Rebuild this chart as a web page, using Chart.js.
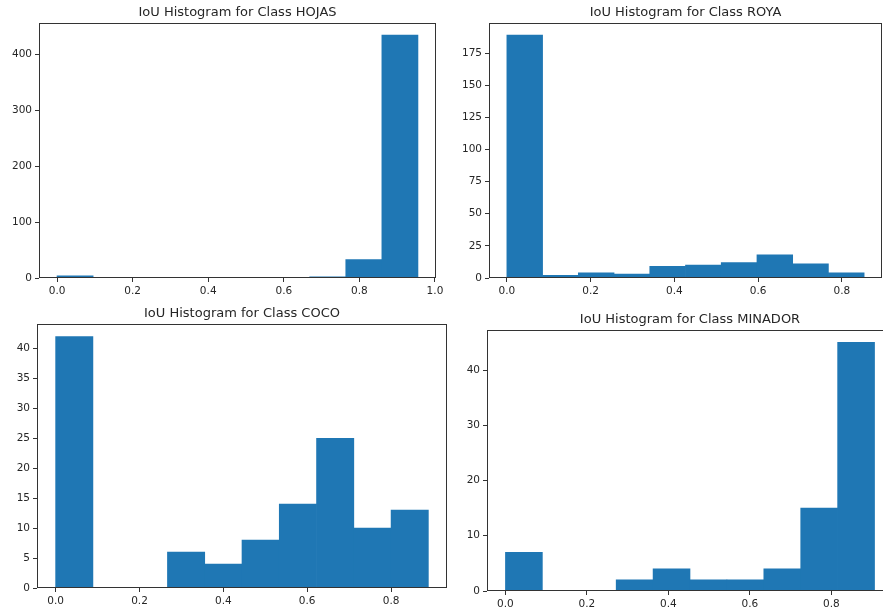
<!DOCTYPE html>
<html lang="en">
<head>
<meta charset="UTF-8">
<title>IoU Histograms</title>
<script src="https://cdn.jsdelivr.net/npm/chart.js@4.4.9/dist/chart.umd.min.js"></script>
<style>
    html, body { margin: 0; padding: 0; background: #fff; overflow: hidden; width: 883px; height: 611px; }
    canvas { position: absolute; }
</style>
</head>
<body>
<canvas id="hojas"></canvas>
<canvas id="roya"></canvas>
<canvas id="coco"></canvas>
<canvas id="minador"></canvas>
<script>
    // counts per bin (10 bins each)
    const hojasCounts = [4, 0, 0, 0, 0, 0, 0, 2, 33, 435];
    const royaCounts = [189, 2, 4, 3, 9, 10, 12, 18, 11, 4];
    const cocoCounts = [42, 0, 0, 6, 4, 8, 14, 25, 10, 13];
    const minadorCounts = [7, 0, 0, 2, 4, 2, 2, 4, 15, 45];

    // IoU range covered by the bins (min, max)
    const hojasRange = [0, 0.955];
    const royaRange = [0, 0.853];
    const cocoRange = [0, 0.889];
    const minadorRange = [0, 0.906];

    // tick labels
    const hojasXTicks = [0, 0.2, 0.4, 0.6, 0.8, 1.0];
    const hojasYTicks = [0, 100, 200, 300, 400];
    const royaXTicks = [0, 0.2, 0.4, 0.6, 0.8];
    const royaYTicks = [0, 25, 50, 75, 100, 125, 150, 175];
    const cocoXTicks = [0, 0.2, 0.4, 0.6, 0.8];
    const cocoYTicks = [0, 5, 10, 15, 20, 25, 30, 35, 40];
    const minadorXTicks = [0, 0.2, 0.4, 0.6, 0.8];
    const minadorYTicks = [0, 10, 20, 30, 40];

    const YW = 40;      // y axis width
    const XH = 30;      // x axis height
    const TOPPAD = 22;  // room for title
    const RIGHTPAD = 15;

    const textColor = '#262626';
    const spineColor = '#333333';
    const barColor = '#1f77b4';

    // draws the box around the axes and the title above it
    const frameTitle = {
        id: 'frameTitle',
        afterDatasetsDraw(chart, args, opts) {
            const a = chart.chartArea;
            const ctx = chart.ctx;
            ctx.save();
            ctx.strokeStyle = spineColor;
            ctx.lineWidth = 1;
            ctx.strokeRect(a.left + 0.5, a.top + 0.5, a.right - a.left - 1, a.bottom - a.top - 1);
            ctx.fillStyle = textColor;
            ctx.font = '13px "DejaVu Sans"';
            ctx.textAlign = 'center';
            ctx.textBaseline = 'middle';
            ctx.fillText(opts.text, (a.left + a.right) / 2, a.top - 10.7);
            ctx.restore();
        }
    };

    function plotarHistograma(id, nome, counts, range, xTicks, yTicks, box) {
        const canvas = document.getElementById(id);
        const w = YW + (box.r - box.l) + RIGHTPAD;
        const h = TOPPAD + (box.b - box.t) + XH;
        canvas.width = w;
        canvas.height = h;
        canvas.style.width = w + 'px';
        canvas.style.height = h + 'px';
        canvas.style.left = (box.l - YW) + 'px';
        canvas.style.top = (box.t - TOPPAD) + 'px';

        const binW = (range[1] - range[0]) / counts.length;
        const dados = [];
        for (let i = 0; i < counts.length; i++) {
            dados.push({ x: range[0] + (i + 0.5) * binW, y: counts[i] });
        }
        const span = range[1] - range[0];
        const maxCount = Math.max(...counts);
        const tickFont = { family: 'DejaVu Sans', size: 10.5 };

        new Chart(canvas, {
            type: 'bar',
            data: {
                datasets: [{
                    data: dados,
                    backgroundColor: barColor,
                    borderWidth: 0,
                    barPercentage: 1,
                    categoryPercentage: 1
                }]
            },
            options: {
                responsive: false,
                animation: false,
                layout: { padding: { top: TOPPAD, left: 0, right: RIGHTPAD, bottom: 0 } },
                plugins: {
                    legend: { display: false },
                    tooltip: { enabled: false },
                    frameTitle: { text: 'IoU Histogram for Class ' + nome }
                },
                scales: {
                    x: {
                        type: 'linear',
                        offset: false,
                        min: range[0] - 0.05 * span,
                        max: range[1] + 0.05 * span,
                        border: { display: false },
                        grid: { offset: false, drawOnChartArea: false, drawTicks: true, tickLength: 4, tickColor: spineColor },
                        ticks: {
                            font: tickFont, color: textColor, padding: 3, maxRotation: 0, autoSkip: false,
                            callback: v => Number(v).toFixed(1)
                        },
                        afterBuildTicks: s => { s.ticks = xTicks.map(v => ({ value: v })); },
                        afterFit: s => { s.height = XH; s.paddingLeft = 0; s.paddingRight = 0; }
                    },
                    y: {
                        type: 'linear',
                        min: 0,
                        max: maxCount * 1.05,
                        border: { display: false },
                        grid: { drawOnChartArea: false, drawTicks: true, tickLength: 4, tickColor: spineColor },
                        ticks: {
                            font: tickFont, color: textColor, padding: 3, autoSkip: false,
                            callback: v => String(v)
                        },
                        afterBuildTicks: s => { s.ticks = yTicks.map(v => ({ value: v })); },
                        afterFit: s => { s.width = YW; s.paddingTop = 0; s.paddingBottom = 0; }
                    }
                }
            },
            plugins: [frameTitle]
        });
    }

    plotarHistograma('hojas', 'HOJAS', hojasCounts, hojasRange, hojasXTicks, hojasYTicks, { l: 39, t: 23, r: 436, b: 278 });
    plotarHistograma('roya', 'ROYA', royaCounts, royaRange, royaXTicks, royaYTicks, { l: 489, t: 23, r: 882, b: 278 });
    plotarHistograma('coco', 'COCO', cocoCounts, cocoRange, cocoXTicks, cocoYTicks, { l: 37, t: 324, r: 447, b: 588 });
    plotarHistograma('minador', 'MINADOR', minadorCounts, minadorRange, minadorXTicks, minadorYTicks, { l: 487, t: 330, r: 893, b: 591 });
</script>
</body>
</html>
